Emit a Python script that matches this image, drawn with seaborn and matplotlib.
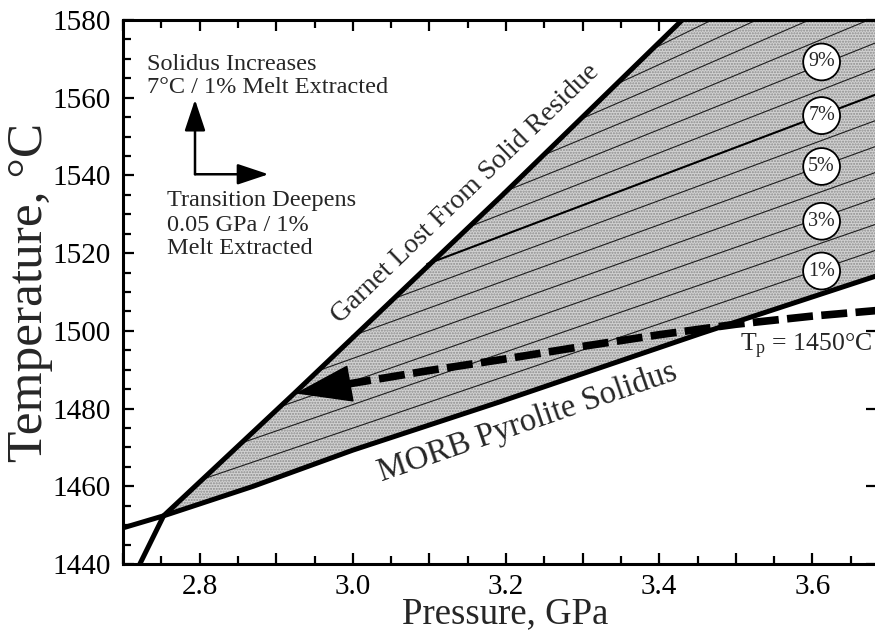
import matplotlib
matplotlib.use("Agg")
import matplotlib.pyplot as plt
from matplotlib.ticker import MultipleLocator, FuncFormatter
import pandas as pd
import seaborn as sns

# axis ranges
P_MIN, P_MAX = 2.7, 3.684
T_MIN, T_MAX = 1440, 1580

# MORB pyrolite solidus
solidus_p = [2.70, 2.753, 2.87, 3.00, 3.193, 3.454, 3.70]
solidus_t = [1449.3, 1452.4, 1460.0, 1469.3, 1481.8, 1499.3, 1515.2]

# garnet-out boundary
garnet_p = [2.722, 2.753, 2.923, 3.193, 3.43]
garnet_t = [1440.0, 1452.4, 1483.8, 1534.5, 1580.0]

# melt-extracted isopleths: start on the garnet line, end at right edge
iso_pct = [1, 2, 3, 4, 5, 6, 7, 8, 9, 10, 11, 12, 13]
iso_p0 = [2.802, 2.851, 2.901, 2.950, 2.999, 3.048, 3.097, 3.147, 3.196, 3.245, 3.294, 3.343, 3.393]
iso_t0 = [1461.7, 1470.9, 1480.2, 1489.4, 1498.7, 1507.9, 1517.2, 1526.4, 1535.7, 1544.9, 1554.2, 1563.4, 1572.7]
iso_p1 = [3.70] * 13
iso_t1 = [1521.9, 1528.6, 1535.3, 1542.0, 1548.7, 1555.4, 1562.1, 1568.8, 1575.5, 1582.2, 1588.9, 1595.6, 1602.3]

# circled labels
label_txt = ["1%", "3%", "5%", "7%", "9%"]
label_p = [3.612] * 5
label_t = [1515.4, 1528.2, 1542.3, 1555.4, 1569.2]

# Tp = 1450 adiabat path (dashed)
path_p = [2.99, 3.10, 3.20, 3.30, 3.40, 3.50, 3.60, 3.70]
path_t = [1486.2, 1489.8, 1492.8, 1496.0, 1499.0, 1501.7, 1503.8, 1505.5]
arrow_tip = (2.925, 1483.9)

# explanatory notes (one entry per text line, baseline positions)
note_lines = ["Solidus Increases", "7°C / 1% Melt Extracted",
              "Transition Deepens", "0.05 GPa / 1%", "Melt Extracted"]
note_p = [2.731, 2.731, 2.758, 2.758, 2.758]
note_t = [1567.1, 1561.1, 1532.1, 1525.6, 1519.7]

sns.set_theme(style="ticks")
plt.rcParams["font.family"] = ["Liberation Serif", "DejaVu Serif"]
plt.rcParams["mathtext.fontset"] = "custom"
plt.rcParams["mathtext.rm"] = "Liberation Serif"
plt.rcParams["mathtext.it"] = "Liberation Serif:italic"

fig = plt.figure(figsize=(8.75, 6.33), dpi=100)
ax = fig.add_axes([123 / 875, 1 - 564 / 633, 1 - 123 / 875 + 0.002, 544 / 633])

# shaded melting region
poly_p = solidus_p[1:] + [P_MAX + 0.1] + garnet_p[::-1][:-1]
poly_t = solidus_t[1:] + [T_MAX + 20] + garnet_t[::-1][:-1]
ax.fill(poly_p, poly_t, facecolor="#d2d2d2", edgecolor="#8c8c8c", hatch="......",
        linewidth=0, zorder=1)

# isopleths
rows = []
for n, p0, t0, p1, t1 in zip(iso_pct, iso_p0, iso_t0, iso_p1, iso_t1):
    rows.append({"pct": n, "P": p0, "T": t0})
    rows.append({"pct": n, "P": p1, "T": t1})
iso = pd.DataFrame(rows)
sns.lineplot(data=iso[iso.pct != 7], x="P", y="T", units="pct", estimator=None,
             color="#1e1e1e", lw=0.8, sort=False, ax=ax, zorder=2)
sns.lineplot(data=iso[iso.pct == 7], x="P", y="T", estimator=None,
             color="black", lw=1.5, sort=False, ax=ax, zorder=2)

# boundaries
sns.lineplot(x=solidus_p, y=solidus_t, color="black", lw=3.6, sort=False, ax=ax, zorder=4)
sns.lineplot(x=garnet_p, y=garnet_t, color="black", lw=3.6, sort=False, ax=ax, zorder=4)

# dashed path with arrow head
ax.plot(path_p, path_t, color="black", lw=5.5, linestyle=(0, (3.4, 1.1)),
        dash_capstyle="butt", zorder=5)
ax.annotate("", xy=arrow_tip, xytext=(path_p[0], path_t[0]),
            arrowprops=dict(arrowstyle="-|>,head_length=0.85,head_width=0.28",
                            mutation_scale=45, color="black", lw=1,
                            shrinkA=0, shrinkB=0), zorder=6)

# circled percent labels
for txt, p, t in zip(label_txt, label_p, label_t):
    ax.text(p, t, txt, fontsize=14.5, ha="center", va="center", zorder=7,
            bbox=dict(boxstyle="circle,pad=0.25", fc="white", ec="black", lw=1.3))

# curve labels
ax.text(3.147, 1535.3, "Garnet Lost From Solid Residue", fontsize=20,
        rotation=44, rotation_mode="anchor", ha="center", va="center")
ax.text(3.228, 1476.5, "MORB Pyrolite Solidus", fontsize=23.5,
        rotation=19, rotation_mode="anchor", ha="center", va="center")
ax.text(3.506, 1494.6, r"T$_{\rm p}$ = 1450°C", fontsize=18.5, ha="left", va="baseline")

# explanatory arrows and text
corner = (2.794, 1540.3)
for tip in [(2.794, 1559.5), (2.890, 1540.3)]:
    ax.annotate("", xy=tip, xytext=corner,
                arrowprops=dict(arrowstyle="-|>,head_length=0.6,head_width=0.2",
                                mutation_scale=32, color="black", lw=1.8,
                                shrinkA=0, shrinkB=0))
for txt, p, t in zip(note_lines, note_p, note_t):
    ax.text(p, t, txt, fontsize=17.5, ha="left", va="baseline")

# axes
ax.set_xlim(P_MIN, P_MAX)
ax.set_ylim(T_MIN, T_MAX)
ax.xaxis.set_major_locator(MultipleLocator(0.1))
ax.xaxis.set_minor_locator(MultipleLocator(0.05))
ax.xaxis.set_major_formatter(FuncFormatter(
    lambda v, pos: f"{v:.1f}" if abs(round(v * 5) - v * 5) < 1e-6 else ""))
ax.yaxis.set_major_locator(MultipleLocator(20))
ax.yaxis.set_minor_locator(MultipleLocator(5))
ax.tick_params(which="both", direction="in", top=True, right=True, width=1.6,
               colors="black", labelsize=21)
ax.tick_params(which="major", length=8, pad=9)
ax.tick_params(axis="x", which="major", pad=7)
ax.tick_params(which="minor", length=5.5)
ax.tick_params(axis="y", which="minor", right=False)
for s in ax.spines.values():
    s.set_linewidth(2.2)
    s.set_color("black")
ax.set_xlabel("Pressure, GPa", fontsize=26.5)
ax.set_ylabel("Temperature, °C", fontsize=37)
ax.xaxis.set_label_coords(0.507, -0.061)
ax.yaxis.set_label_coords(-0.093, 0.5)
ax.grid(False)

fig.savefig("out.png", dpi=100)
